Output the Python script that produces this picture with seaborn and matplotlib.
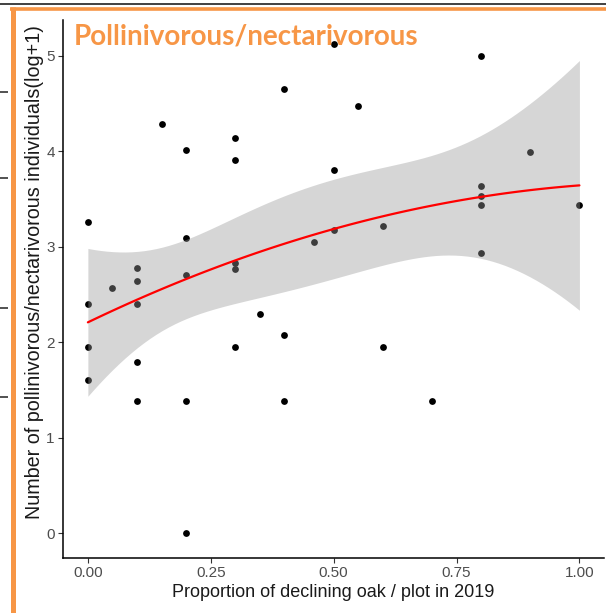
import numpy as np
import pandas as pd
import matplotlib
matplotlib.use("Agg")
import matplotlib.pyplot as plt
from matplotlib.lines import Line2D
import seaborn as sns

# ---------------- data ----------------
prop_declining = [0.00, 0.00, 0.00, 0.00,
                  0.05,
                  0.10, 0.10, 0.10, 0.10, 0.10,
                  0.15,
                  0.20, 0.20, 0.20, 0.20, 0.20,
                  0.30, 0.30, 0.30, 0.30, 0.30,
                  0.35,
                  0.40, 0.40, 0.40,
                  0.46,
                  0.50, 0.50, 0.50,
                  0.55,
                  0.60, 0.60,
                  0.70,
                  0.80, 0.80, 0.80, 0.80, 0.80,
                  0.90,
                  1.00]
log_abundance = [3.26, 2.40, 1.95, 1.61,
                 2.57,
                 2.78, 2.64, 2.40, 1.79, 1.39,
                 4.29,
                 4.01, 3.09, 2.71, 1.39, 0.00,
                 4.14, 3.91, 2.83, 2.77, 1.95,
                 2.30,
                 4.65, 2.08, 1.39,
                 3.05,
                 5.12, 3.81, 3.18,
                 4.48,
                 3.22, 1.95,
                 1.39,
                 5.00, 3.64, 3.53, 3.44, 2.94,
                 3.99,
                 3.44]
x_ticks = [0.00, 0.25, 0.50, 0.75, 1.00]
x_tick_labels = ["0.00", "0.25", "0.50", "0.75", "1.00"]
y_ticks = [0, 1, 2, 3, 4, 5]
title_text = "Pollinivorous/nectarivorous"
x_title = "Proportion of declining oak / plot in 2019"
y_title = "Number of pollinivorous/nectarivorous individuals(log+1)"

df = pd.DataFrame({"x": prop_declining, "y": log_abundance})

# ---------------- quadratic least-squares smoother with 95% CI ----------------
xv = df["x"].to_numpy(float)
yv = df["y"].to_numpy(float)
n = len(xv)
X = np.column_stack([np.ones(n), xv, xv ** 2])
beta, *_ = np.linalg.lstsq(X, yv, rcond=None)
res = yv - X @ beta
dfree = n - 3
sigma = np.sqrt(np.sum(res ** 2) / dfree)
XtX_inv = np.linalg.inv(X.T @ X)
z = 1.959964
tq = (z + (z ** 3 + z) / (4 * dfree)
      + (5 * z ** 5 + 16 * z ** 3 + 3 * z) / (96 * dfree ** 2)
      + (3 * z ** 7 + 19 * z ** 5 + 17 * z ** 3 - 15 * z) / (384 * dfree ** 3))

grid = np.linspace(xv.min(), xv.max(), 80)
G = np.column_stack([np.ones_like(grid), grid, grid ** 2])
fit = G @ beta
se = sigma * np.sqrt(np.einsum("ij,jk,ik->i", G, XtX_inv, G))
smooth = pd.DataFrame({"x": grid, "fit": fit, "lo": fit - tq * se, "hi": fit + tq * se})

# ---------------- figure ----------------
sns.set_theme(style="ticks")
plt.rcParams["font.family"] = ["Liberation Sans", "DejaVu Sans"]

W, H = 606, 613
fig = plt.figure(figsize=(W / 100, H / 100), dpi=100)
fig.patch.set_facecolor("white")

ax_l, ax_r, ax_t, ax_b = 63.3, 604.0, 20.0, 557.7
ax = fig.add_axes([ax_l / W, 1 - ax_b / H, (ax_r - ax_l) / W, (ax_b - ax_t) / H])
ax.set_facecolor("white")

sns.scatterplot(data=df, x="x", y="y", ax=ax, color="black", s=24,
                linewidth=0, zorder=2, legend=False)
ax.fill_between(smooth["x"], smooth["lo"], smooth["hi"], color="#999999",
                alpha=0.4, linewidth=0, zorder=3)
sns.lineplot(data=smooth, x="x", y="fit", ax=ax, color="#FF0000", lw=1.6,
             zorder=4, legend=False)

ax.set_xlim(-0.05, 1.05)
ax.set_ylim(-0.256, 5.376)
ax.set_xticks(x_ticks)
ax.set_xticklabels(x_tick_labels)
ax.set_yticks(y_ticks)
sns.despine(ax=ax)
for sp in ["left", "bottom"]:
    ax.spines[sp].set_color("black")
    ax.spines[sp].set_linewidth(1.1)
ax.tick_params(axis="both", colors="#333333", length=3.6, width=0.8,
               labelsize=11, labelcolor="#4D4D4D", pad=2.5)
ax.set_xlabel(x_title, fontsize=13, color="#1A1A1A", labelpad=3)
ax.set_ylabel(y_title, fontsize=14.2, color="#1A1A1A")
ax.yaxis.set_label_coords(-0.035, 0.531)

ax.text(73.3 / W, 1 - 44.3 / H, title_text, transform=fig.transFigure,
        fontsize=20, fontweight="bold", color="#F79646",
        family=["Lato", "DejaVu Sans"], ha="left", va="baseline", zorder=10)

# ---------------- screenshot frame decorations ----------------
def px_line(x0, y0, x1, y1, color, lw):
    fig.add_artist(Line2D([x0 / W, x1 / W], [1 - y0 / H, 1 - y1 / H],
                          transform=fig.transFigure, color=color,
                          linewidth=lw, solid_capstyle="butt"))

px_line(0, 3.5, W, 3.5, "#404040", 1.4)
px_line(10, 8.5, W, 8.5, "#F79646", 2.6)
px_line(12.5, 7, 12.5, H, "#F79646", 3.6)
for yy in [92, 178, 308, 397]:
    px_line(0, yy, 8, yy, "#333333", 1.2)

fig.savefig("out.png", dpi=100, facecolor="white")
